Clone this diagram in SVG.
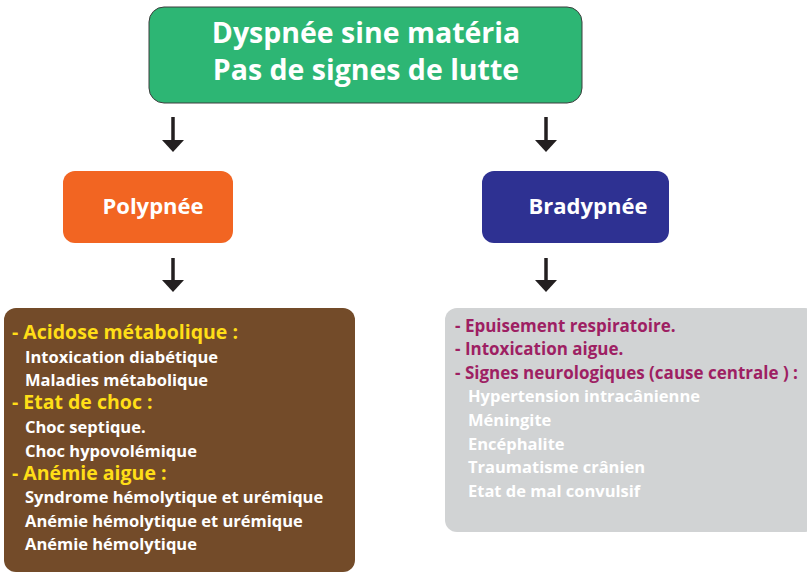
<svg xmlns="http://www.w3.org/2000/svg" width="807" height="574" viewBox="0 0 807 574">
<defs>
<style>
text{font-family:"Open Sans","Liberation Sans",sans-serif;font-weight:bold;}
.title{fill:#fff;font-size:28.5px;text-anchor:middle;}
.lbl{fill:#fff;font-size:22px;text-anchor:middle;}
.yh{fill:#ffde17;font-size:19.5px;}
.wt{fill:#fff;font-size:16.5px;}
.mh{fill:#9e1f63;font-size:17px;}
.conn{stroke:#231f20;stroke-width:3.5;fill:none;}
.head{fill:#231f20;}
</style>
</defs>
<g id="top">
<rect x="149" y="7" width="433" height="96" rx="15" fill="#2db674" stroke="#3d3d3d" stroke-width="1"/>
<text class="title" x="366" y="43">Dyspnée sine matéria</text>
<text class="title" x="366" y="80">Pas de signes de lutte</text>
</g>
<g id="polypnee">
<rect x="63" y="171" width="170" height="72" rx="12" fill="#f26522"/>
<text class="lbl" x="153" y="214">Polypnée</text>
</g>
<g id="bradypnee">
<rect x="482" y="171" width="187" height="72" rx="12" fill="#2e3192"/>
<text class="lbl" x="588" y="214">Bradypnée</text>
</g>
<g id="causes-poly">
<rect x="4" y="308" width="351" height="264" rx="12" fill="#734b29"/>
<text class="yh" x="12" y="339">- Acidose métabolique :</text>
<text class="wt" x="25" y="363">Intoxication diabétique</text>
<text class="wt" x="25" y="386">Maladies métabolique</text>
<text class="yh" x="12" y="409">- Etat de choc :</text>
<text class="wt" x="25" y="433">Choc septique.</text>
<text class="wt" x="25" y="457">Choc hypovolémique</text>
<text class="yh" x="12" y="480">- Anémie aigue :</text>
<text class="wt" x="25" y="503">Syndrome hémolytique et urémique</text>
<text class="wt" x="25" y="527">Anémie hémolytique et urémique</text>
<text class="wt" x="25" y="550">Anémie hémolytique</text>
</g>
<g id="causes-brady">
<rect x="445" y="308" width="372" height="224" rx="12" fill="#d1d3d4"/>
<text class="mh" x="455" y="332">- Epuisement respiratoire.</text>
<text class="mh" x="455" y="355">- Intoxication aigue.</text>
<text class="mh" x="455" y="379">- Signes neurologiques (cause centrale ) :</text>
<text class="wt" x="468" y="402">Hypertension intracânienne</text>
<text class="wt" x="468" y="426">Méningite</text>
<text class="wt" x="468" y="450">Encéphalite</text>
<text class="wt" x="468" y="473">Traumatisme crânien</text>
<text class="wt" x="468" y="497">Etat de mal convulsif</text>
</g>
<g id="connectors">
<path class="conn" d="M173,117 V141"/>
<path class="head" d="M162,140 H184 L173,152 Z"/>
<path class="conn" d="M546,117 V141"/>
<path class="head" d="M535,140 H557 L546,152 Z"/>
<path class="conn" d="M173,258 V281"/>
<path class="head" d="M162,280 H184 L173,292 Z"/>
<path class="conn" d="M546,258 V281"/>
<path class="head" d="M535,280 H557 L546,292 Z"/>
</g>
</svg>
